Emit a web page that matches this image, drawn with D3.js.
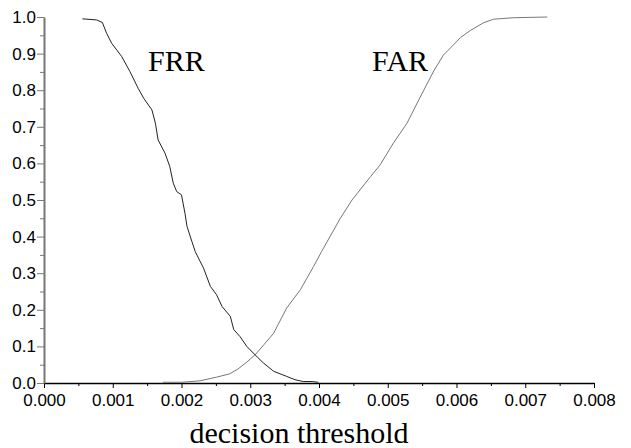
<!DOCTYPE html>
<html>
<head>
<meta charset="utf-8">
<script src="https://cdn.jsdelivr.net/npm/d3@7/dist/d3.min.js"></script>
<style>
  body { margin: 0; background: #fff; }
  .tick text { font-family: "Liberation Sans", Arial, sans-serif; font-size: 17px; fill: #000; }
  .label { font-family: "Liberation Serif", "Times New Roman", serif; font-size: 30px; fill: #000; }
</style>
</head>
<body>
<svg id="chart"></svg>
<script>
/* FRR curve: decision threshold vs rate */
var frrX = [0.000558, 0.000767, 0.000849, 0.000912, 0.000985, 0.00113, 0.00125, 0.00137, 0.00145, 0.00157,
            0.00162, 0.00166, 0.00176, 0.00183, 0.00188, 0.00193, 0.00200, 0.00205, 0.00208, 0.00215,
            0.00220, 0.00232, 0.00242, 0.00251, 0.00259, 0.00271, 0.00276, 0.00285, 0.00295, 0.00307,
            0.00319, 0.00334, 0.00353, 0.00365, 0.00377, 0.00390, 0.00399];
var frrY = [0.995, 0.992, 0.985, 0.955, 0.928, 0.892, 0.851, 0.805, 0.778, 0.746,
            0.710, 0.664, 0.628, 0.591, 0.546, 0.523, 0.514, 0.464, 0.428, 0.387,
            0.359, 0.314, 0.264, 0.241, 0.209, 0.182, 0.146, 0.127, 0.100, 0.077,
            0.055, 0.032, 0.018, 0.009, 0.004, 0.004, 0.002];

/* FAR curve */
var farX = [0.00173, 0.00200, 0.00227, 0.00251, 0.00270, 0.00282, 0.00295, 0.00307, 0.00320, 0.00334,
            0.00353, 0.00373, 0.00382, 0.00392, 0.00404, 0.00416, 0.00431, 0.00448, 0.00475, 0.00489,
            0.00508, 0.00528, 0.00545, 0.00567, 0.00581, 0.00606, 0.00620, 0.00639, 0.00654, 0.00683,
            0.00732];
var farY = [0.002, 0.002, 0.006, 0.016, 0.025, 0.038, 0.057, 0.077, 0.105, 0.136,
            0.205, 0.255, 0.285, 0.318, 0.360, 0.400, 0.450, 0.500, 0.564, 0.596,
            0.655, 0.710, 0.773, 0.853, 0.896, 0.944, 0.963, 0.984, 0.994, 0.998,
            1.0];

var xTicks = [0, 0.001, 0.002, 0.003, 0.004, 0.005, 0.006, 0.007, 0.008];
var yTicks = [0, 0.1, 0.2, 0.3, 0.4, 0.5, 0.6, 0.7, 0.8, 0.9, 1.0];

var W = 631, H = 448;
var svg = d3.select("#chart").attr("width", W).attr("height", H);

var margin = {top: 17, right: 37, bottom: 65, left: 44},
    width = W - margin.left - margin.right,
    height = H - margin.top - margin.bottom;

var g = svg.append("g")
    .attr("transform", "translate(" + margin.left + "," + margin.top + ")");

var x = d3.scaleLinear().domain([0, 0.008]).range([0, width]);
var y = d3.scaleLinear().domain([0, 1]).range([height, 0]);

/* minor ticks */
g.append("g")
    .attr("transform", "translate(0," + height + ")")
    .call(d3.axisBottom(x).tickValues(d3.range(0.0005, 0.008, 0.001)).tickSize(3).tickFormat(""))
    .call(function(a) { a.select(".domain").remove(); a.selectAll("line").attr("stroke", "#000"); });

g.append("g")
    .call(d3.axisLeft(y).tickValues(d3.range(0.05, 1, 0.1)).tickSize(4).tickFormat(""))
    .call(function(a) { a.select(".domain").remove(); a.selectAll("line").attr("stroke", "#777"); });

/* major axes */
g.append("g")
    .attr("class", "axis axis--x")
    .attr("transform", "translate(0," + height + ")")
    .call(d3.axisBottom(x).tickValues(xTicks).tickSize(5).tickSizeOuter(0).tickPadding(6).tickFormat(d3.format(".3f")))
    .call(function(a) {
      a.select(".domain").attr("stroke", "#000").attr("stroke-width", 1.3);
      a.selectAll("line").attr("stroke", "#000");
    });

g.append("g")
    .attr("class", "axis axis--y")
    .call(d3.axisLeft(y).tickValues(yTicks).tickSize(7).tickSizeOuter(0).tickPadding(1).tickFormat(d3.format(".1f")))
    .call(function(a) {
      a.select(".domain").attr("stroke", "#777").attr("stroke-width", 2);
      a.selectAll("line").attr("stroke", "#777");
    });

var line = d3.line()
    .x(function(d) { return x(d[0]); })
    .y(function(d) { return y(d[1]); });

g.append("path")
    .datum(d3.zip(farX, farY))
    .attr("fill", "none")
    .attr("stroke", "#777")
    .attr("stroke-width", 1)
    .attr("d", line);

g.append("path")
    .datum(d3.zip(frrX, frrY))
    .attr("fill", "none")
    .attr("stroke", "#222")
    .attr("stroke-width", 1)
    .attr("d", line);

svg.append("text").attr("class", "label").attr("x", 148).attr("y", 71).text("FRR");
svg.append("text").attr("class", "label").attr("x", 372).attr("y", 71).text("FAR");

svg.append("text")
    .attr("class", "label")
    .attr("x", 299)
    .attr("y", 443)
    .style("text-anchor", "middle")
    .text("decision threshold");
</script>
</body>
</html>
